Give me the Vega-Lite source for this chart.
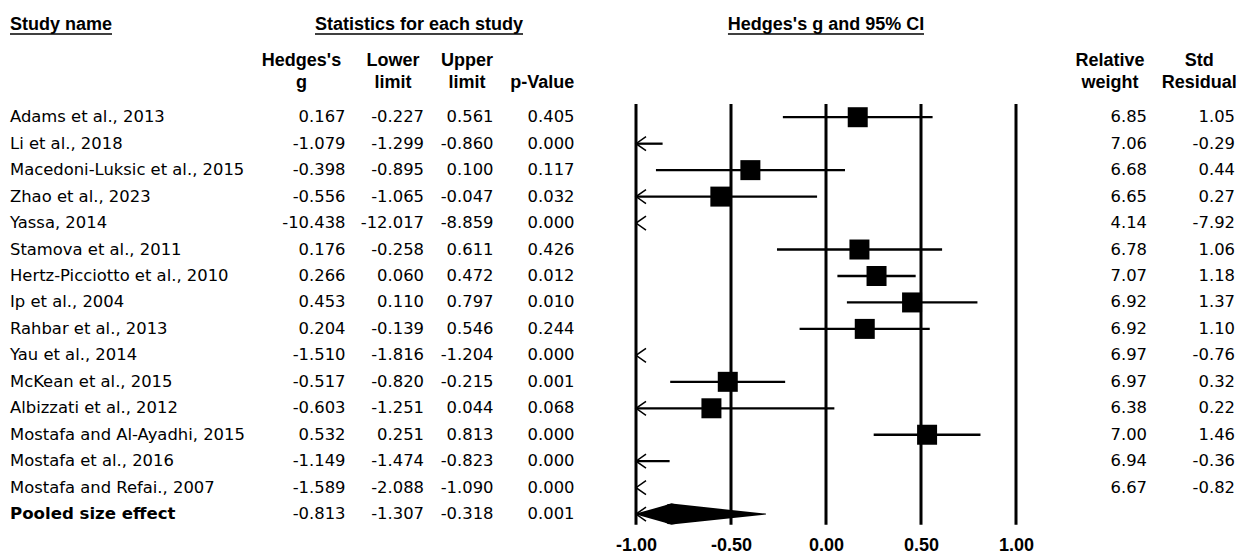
{
  "$schema": "https://vega.github.io/schema/vega-lite/v6.json",
  "background": "white",
  "padding": {"left": 9, "top": 0, "right": 2, "bottom": 0},
  "spacing": 16.5,
  "bounds": "flush",
  "config": {
    "view": {"stroke": null},
    "text": {"font": "DejaVu Sans", "fontSize": 16.4, "color": "black"},
    "locale": {"number": {"decimal": ".", "thousands": ",", "grouping": [3], "currency": ["$", ""], "minus": "-"}}
  },
  "datasets": {
    "rows": [
      {"row": 1, "kind": "study", "study": "Adams et al., 2013", "g": 0.167, "lower": -0.227, "upper": 0.561, "p": 0.405, "weight": 6.85, "resid": 1.05},
      {"row": 2, "kind": "study", "study": "Li et al., 2018", "g": -1.079, "lower": -1.299, "upper": -0.860, "p": 0.000, "weight": 7.06, "resid": -0.29},
      {"row": 3, "kind": "study", "study": "Macedoni-Luksic et al., 2015", "g": -0.398, "lower": -0.895, "upper": 0.100, "p": 0.117, "weight": 6.68, "resid": 0.44},
      {"row": 4, "kind": "study", "study": "Zhao et al., 2023", "g": -0.556, "lower": -1.065, "upper": -0.047, "p": 0.032, "weight": 6.65, "resid": 0.27},
      {"row": 5, "kind": "study", "study": "Yassa, 2014", "g": -10.438, "lower": -12.017, "upper": -8.859, "p": 0.000, "weight": 4.14, "resid": -7.92},
      {"row": 6, "kind": "study", "study": "Stamova et al., 2011", "g": 0.176, "lower": -0.258, "upper": 0.611, "p": 0.426, "weight": 6.78, "resid": 1.06},
      {"row": 7, "kind": "study", "study": "Hertz-Picciotto et al., 2010", "g": 0.266, "lower": 0.060, "upper": 0.472, "p": 0.012, "weight": 7.07, "resid": 1.18},
      {"row": 8, "kind": "study", "study": "Ip et al., 2004", "g": 0.453, "lower": 0.110, "upper": 0.797, "p": 0.010, "weight": 6.92, "resid": 1.37},
      {"row": 9, "kind": "study", "study": "Rahbar et al., 2013", "g": 0.204, "lower": -0.139, "upper": 0.546, "p": 0.244, "weight": 6.92, "resid": 1.10},
      {"row": 10, "kind": "study", "study": "Yau et al., 2014", "g": -1.510, "lower": -1.816, "upper": -1.204, "p": 0.000, "weight": 6.97, "resid": -0.76},
      {"row": 11, "kind": "study", "study": "McKean et al., 2015", "g": -0.517, "lower": -0.820, "upper": -0.215, "p": 0.001, "weight": 6.97, "resid": 0.32},
      {"row": 12, "kind": "study", "study": "Albizzati et al., 2012", "g": -0.603, "lower": -1.251, "upper": 0.044, "p": 0.068, "weight": 6.38, "resid": 0.22},
      {"row": 13, "kind": "study", "study": "Mostafa and Al-Ayadhi, 2015", "g": 0.532, "lower": 0.251, "upper": 0.813, "p": 0.000, "weight": 7.00, "resid": 1.46},
      {"row": 14, "kind": "study", "study": "Mostafa et al., 2016", "g": -1.149, "lower": -1.474, "upper": -0.823, "p": 0.000, "weight": 6.94, "resid": -0.36},
      {"row": 15, "kind": "study", "study": "Mostafa and Refai., 2007", "g": -1.589, "lower": -2.088, "upper": -1.090, "p": 0.000, "weight": 6.67, "resid": -0.82},
      {"row": 16, "kind": "summary", "study": "Pooled size effect", "g": -0.813, "lower": -1.307, "upper": -0.318, "p": 0.001}
    ],
    "refs": [{"v": -1}, {"v": -0.5}, {"v": 0}, {"v": 0.5}, {"v": 1}]
  },
  "data": {"name": "rows"},
  "hconcat": [
    {
      "width": 231, "height": 530,
      "encoding": {
        "x": {"datum": 0, "type": "quantitative", "scale": {"domain": [0, 1], "nice": false, "zero": false}, "axis": null}
      },
      "layer": [
        {"transform": [{"filter": "datum.kind === 'study'"}], "mark": {"type": "text", "align": "left", "baseline": "middle"}, "encoding": {"y": {"field": "row", "type": "quantitative", "scale": {"domain": [-3.43, 16.6], "reverse": true, "nice": false, "zero": false}, "axis": null}, "text": {"field": "study", "type": "nominal"}}},
        {"transform": [{"filter": "datum.kind === 'summary'"}], "mark": {"type": "text", "align": "left", "baseline": "middle", "fontWeight": "bold", "fontSize": 16.6}, "encoding": {"y": {"field": "row", "type": "quantitative"}, "text": {"field": "study", "type": "nominal"}}},
        {"data": {"values": [{}]}, "mark": {"type": "text", "text": "Study name", "align": "left", "baseline": "alphabetic", "font": "Liberation Sans", "fontWeight": "bold", "fontSize": 18}, "encoding": {"y": {"datum": -2.28, "type": "quantitative"}}},
        {"data": {"values": [{}]}, "mark": {"type": "rule", "strokeWidth": 1.4, "color": "black"}, "encoding": {"x2": {"datum": 0.4416}, "y": {"datum": -2.144, "type": "quantitative"}}}
      ]
    },
    {
      "width": 88, "height": 530,
      "encoding": {
        "x": {"datum": 1, "type": "quantitative", "scale": {"domain": [0, 1], "nice": false, "zero": false}, "axis": null}
      },
      "layer": [
        {"mark": {"type": "text", "align": "right", "baseline": "middle"}, "encoding": {"y": {"field": "row", "type": "quantitative", "scale": {"domain": [-3.43, 16.6], "reverse": true, "nice": false, "zero": false}, "axis": null}, "text": {"field": "g", "type": "quantitative", "format": ".3f"}}},
        {"data": {"values": [{}]}, "mark": {"type": "text", "text": ["Hedges's", "g"], "align": "center", "baseline": "alphabetic", "lineHeight": 21.7, "font": "Liberation Sans", "fontWeight": "bold", "fontSize": 18}, "encoding": {"x": {"datum": 0.5, "type": "quantitative"}, "y": {"datum": -0.935, "type": "quantitative"}}}
      ]
    },
    {
      "width": 62, "height": 530,
      "encoding": {
        "x": {"datum": 1, "type": "quantitative", "scale": {"domain": [0, 1], "nice": false, "zero": false}, "axis": null}
      },
      "layer": [
        {"mark": {"type": "text", "align": "right", "baseline": "middle"}, "encoding": {"y": {"field": "row", "type": "quantitative", "scale": {"domain": [-3.43, 16.6], "reverse": true, "nice": false, "zero": false}, "axis": null}, "text": {"field": "lower", "type": "quantitative", "format": ".3f"}}},
        {"data": {"values": [{}]}, "mark": {"type": "text", "text": ["Lower", "limit"], "align": "center", "baseline": "alphabetic", "lineHeight": 21.7, "font": "Liberation Sans", "fontWeight": "bold", "fontSize": 18}, "encoding": {"x": {"datum": 0.5, "type": "quantitative"}, "y": {"datum": -0.935, "type": "quantitative"}}},
        {"data": {"values": [{}]}, "mark": {"type": "text", "text": "Statistics for each study", "align": "center", "baseline": "alphabetic", "font": "Liberation Sans", "fontWeight": "bold", "fontSize": 18}, "encoding": {"x": {"datum": 0.919, "type": "quantitative"}, "y": {"datum": -2.28, "type": "quantitative"}}},
        {"data": {"values": [{}]}, "mark": {"type": "rule", "strokeWidth": 1.4, "color": "black"}, "encoding": {"x": {"datum": -0.758, "type": "quantitative"}, "x2": {"datum": 2.597}, "y": {"datum": -2.144, "type": "quantitative"}}}
      ]
    },
    {
      "width": 53, "height": 530,
      "encoding": {
        "x": {"datum": 1, "type": "quantitative", "scale": {"domain": [0, 1], "nice": false, "zero": false}, "axis": null}
      },
      "layer": [
        {"mark": {"type": "text", "align": "right", "baseline": "middle"}, "encoding": {"y": {"field": "row", "type": "quantitative", "scale": {"domain": [-3.43, 16.6], "reverse": true, "nice": false, "zero": false}, "axis": null}, "text": {"field": "upper", "type": "quantitative", "format": ".3f"}}},
        {"data": {"values": [{}]}, "mark": {"type": "text", "text": ["Upper", "limit"], "align": "center", "baseline": "alphabetic", "lineHeight": 21.7, "font": "Liberation Sans", "fontWeight": "bold", "fontSize": 18}, "encoding": {"x": {"datum": 0.5, "type": "quantitative"}, "y": {"datum": -0.935, "type": "quantitative"}}}
      ]
    },
    {
      "width": 64.5, "height": 530,
      "encoding": {
        "x": {"datum": 1, "type": "quantitative", "scale": {"domain": [0, 1], "nice": false, "zero": false}, "axis": null}
      },
      "layer": [
        {"mark": {"type": "text", "align": "right", "baseline": "middle"}, "encoding": {"y": {"field": "row", "type": "quantitative", "scale": {"domain": [-3.43, 16.6], "reverse": true, "nice": false, "zero": false}, "axis": null}, "text": {"field": "p", "type": "quantitative", "format": ".3f"}}},
        {"data": {"values": [{}]}, "mark": {"type": "text", "text": "p-Value", "align": "center", "baseline": "alphabetic", "font": "Liberation Sans", "fontWeight": "bold", "fontSize": 18}, "encoding": {"x": {"datum": 0.5, "type": "quantitative"}, "y": {"datum": -0.115, "type": "quantitative"}}}
      ]
    },
    {
      "width": 27.5, "height": 530,
      "data": {"values": []},
      "mark": {"type": "point", "opacity": 0},
      "encoding": {}
    },
    {
      "width": 380, "height": 530,
      "resolve": {"scale": {"size": "independent"}},
      "layer": [
        {
          "data": {"name": "refs"},
          "mark": {"type": "rule", "strokeWidth": 3, "color": "black"},
          "encoding": {
            "x": {"field": "v", "type": "quantitative", "scale": {"domain": [-1, 1], "clamp": true, "nice": false, "zero": false},
              "axis": {"values": [-1, -0.5, 0, 0.5, 1], "format": ".2f", "title": null, "domain": false, "ticks": false, "tickSize": 0, "grid": false, "labelPadding": 6, "labelFlush": false, "labelOverlap": false, "labelFont": "Liberation Sans", "labelFontWeight": "bold", "labelFontSize": 18, "labelColor": "black"}},
            "y": {"datum": 0.5, "type": "quantitative", "scale": {"domain": [-3.43, 16.6], "reverse": true, "nice": false, "zero": false}, "axis": null},
            "y2": {"datum": 16.4}
          }
        },
        {
          "transform": [{"filter": "datum.kind === 'study'"}],
          "mark": {"type": "rule", "strokeWidth": 2.3, "color": "black"},
          "encoding": {"x": {"field": "lower", "type": "quantitative"}, "x2": {"field": "upper"}, "y": {"field": "row", "type": "quantitative"}}
        },
        {
          "transform": [{"filter": "datum.kind === 'study' && datum.g >= -1 && datum.g <= 1"}],
          "mark": {"type": "square", "size": 400, "color": "black", "filled": true, "opacity": 1},
          "encoding": {"x": {"field": "g", "type": "quantitative"}, "y": {"field": "row", "type": "quantitative"}}
        },
        {
          "transform": [{"filter": "datum.lower < -1"}],
          "mark": {"type": "point", "shape": "M1,-0.7L0,0L1,0.7", "size": 400, "filled": false, "color": "black", "strokeWidth": 1.5, "opacity": 1},
          "encoding": {"x": {"field": "lower", "type": "quantitative"}, "y": {"field": "row", "type": "quantitative"}}
        },
        {
          "transform": [{"filter": "datum.kind === 'summary'"}, {"fold": ["lower", "g"], "as": ["key", "value"]}],
          "mark": {"type": "trail", "color": "black"},
          "encoding": {
            "x": {"field": "value", "type": "quantitative"},
            "y": {"field": "row", "type": "quantitative"},
            "size": {"field": "key", "type": "nominal", "scale": {"type": "point", "domain": ["lower", "g"], "range": [0, 21], "padding": 0}, "legend": null}
          }
        },
        {
          "transform": [{"filter": "datum.kind === 'summary'"}, {"fold": ["g", "upper"], "as": ["key", "value"]}],
          "mark": {"type": "trail", "color": "black"},
          "encoding": {
            "x": {"field": "value", "type": "quantitative"},
            "y": {"field": "row", "type": "quantitative"},
            "size": {"field": "key", "type": "nominal", "scale": {"type": "point", "domain": ["upper", "g"], "range": [0, 21], "padding": 0}, "legend": null}
          }
        },
        {
          "data": {"values": [{}]},
          "mark": {"type": "text", "text": "Hedges's g and 95% CI", "align": "center", "baseline": "alphabetic", "font": "Liberation Sans", "fontWeight": "bold", "fontSize": 18},
          "encoding": {"x": {"datum": 0, "type": "quantitative"}, "y": {"datum": -2.28, "type": "quantitative"}}
        },
        {
          "data": {"values": [{}]},
          "mark": {"type": "rule", "strokeWidth": 1.4, "color": "black"},
          "encoding": {"x": {"datum": -0.516, "type": "quantitative"}, "x2": {"datum": 0.516}, "y": {"datum": -2.144, "type": "quantitative"}}
        }
      ]
    },
    {
      "width": 24, "height": 530,
      "data": {"values": []},
      "mark": {"type": "point", "opacity": 0},
      "encoding": {}
    },
    {
      "width": 74, "height": 530,
      "encoding": {
        "x": {"datum": 1, "type": "quantitative", "scale": {"domain": [0, 1], "nice": false, "zero": false}, "axis": null}
      },
      "layer": [
        {"transform": [{"filter": "datum.kind === 'study'"}], "mark": {"type": "text", "align": "right", "baseline": "middle"}, "encoding": {"y": {"field": "row", "type": "quantitative", "scale": {"domain": [-3.43, 16.6], "reverse": true, "nice": false, "zero": false}, "axis": null}, "text": {"field": "weight", "type": "quantitative", "format": ".2f"}}},
        {"data": {"values": [{}]}, "mark": {"type": "text", "text": ["Relative", "weight"], "align": "center", "baseline": "alphabetic", "lineHeight": 21.7, "font": "Liberation Sans", "fontWeight": "bold", "fontSize": 18}, "encoding": {"x": {"datum": 0.5, "type": "quantitative"}, "y": {"datum": -0.935, "type": "quantitative"}}}
      ]
    },
    {
      "width": 71.5, "height": 530,
      "encoding": {
        "x": {"datum": 1, "type": "quantitative", "scale": {"domain": [0, 1], "nice": false, "zero": false}, "axis": null}
      },
      "layer": [
        {"transform": [{"filter": "datum.kind === 'study'"}], "mark": {"type": "text", "align": "right", "baseline": "middle"}, "encoding": {"y": {"field": "row", "type": "quantitative", "scale": {"domain": [-3.43, 16.6], "reverse": true, "nice": false, "zero": false}, "axis": null}, "text": {"field": "resid", "type": "quantitative", "format": ".2f"}}},
        {"data": {"values": [{}]}, "mark": {"type": "text", "text": ["Std", "Residual"], "align": "center", "baseline": "alphabetic", "lineHeight": 21.7, "font": "Liberation Sans", "fontWeight": "bold", "fontSize": 18}, "encoding": {"x": {"datum": 0.5, "type": "quantitative"}, "y": {"datum": -0.935, "type": "quantitative"}}}
      ]
    }
  ]
}
